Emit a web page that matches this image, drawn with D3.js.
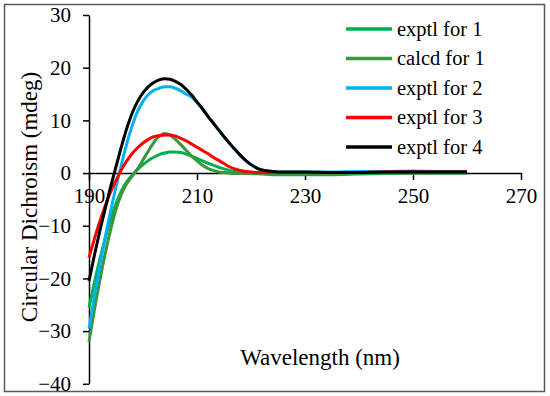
<!DOCTYPE html>
<html>
<head>
<meta charset="utf-8">
<script src="https://cdn.jsdelivr.net/npm/d3@7"></script>
<style>
  body { margin: 0; background: #fff; }
  svg { display: block; }
  svg text { font-family: "Liberation Serif", "Times New Roman", Tinos, "DejaVu Serif", serif; }
</style>
</head>
<body>
<script>
// wavelength grid (nm) shared by all series
const wavelengths = [190, 191, 192, 193, 194, 195, 196, 197, 198, 199,
    200, 201, 202, 203, 204, 205, 206, 207, 208, 209,
    210, 211, 212, 213, 214, 215, 216, 217, 218, 219,
    220, 221, 222, 224, 226, 228, 230, 235, 240, 245,
    250, 255, 260];

const exptl1 = [-25.5, -20.8, -16.4, -12.4, -8.8, -5.8, -3.4, -1.6, -0.4, 0.7,
    1.6, 2.4, 3.0, 3.5, 3.8, 4.0, 4.0, 3.9, 3.6, 3.2,
    2.8, 2.3, 1.9, 1.5, 1.1, 0.8, 0.5, 0.3, 0.1, 0.0,
    -0.1, -0.15, -0.2, -0.3, -0.3, -0.3, -0.3, -0.3, -0.2, -0.1,
    0.0, 0.0, 0.0];

const calcd1 = [-32.0, -26.0, -20.4, -15.3, -10.8, -6.9, -4.0, -2.0, -0.6, 0.8,
    2.5, 4.2, 5.8, 7.0, 7.5, 7.2, 6.4, 5.4, 4.3, 3.2,
    2.3, 1.5, 0.9, 0.5, 0.2, 0.1, 0.0, -0.1, -0.1, -0.1,
    -0.1, -0.1, -0.1, -0.1, -0.1, -0.1, -0.1, -0.1, 0.0, 0.0,
    0.0, 0.0, 0.0];

const exptl2 = [-29.5, -23.4, -17.6, -12.2, -7.2, -2.6, 1.6, 5.6, 9.0, 11.7,
    13.6, 14.9, 15.7, 16.1, 16.4, 16.4, 16.1, 15.6, 15.0, 14.4,
    13.4, 12.2, 10.8, 9.5, 8.2, 6.9, 5.7, 4.5, 3.4, 2.4,
    1.6, 1.0, 0.6, 0.3, 0.2, 0.2, 0.2, 0.2, 0.3, 0.3,
    0.4, 0.3, 0.3];

const exptl3 = [-16.0, -12.5, -9.2, -6.2, -3.6, -1.4, 0.6, 2.3, 3.7, 4.8,
    5.7, 6.4, 6.9, 7.1, 7.2, 7.2, 7.0, 6.6, 6.1, 5.5,
    4.9, 4.3, 3.7, 3.0, 2.4, 1.8, 1.2, 0.8, 0.5, 0.3,
    0.2, 0.1, 0.1, 0.1, 0.1, 0.1, 0.1, 0.1, 0.1, 0.2,
    0.2, 0.2, 0.2];

const exptl4 = [-20.5, -15.6, -11.0, -6.8, -2.6, 1.2, 5.0, 8.5, 11.4, 13.6,
    15.2, 16.4, 17.2, 17.7, 17.9, 17.8, 17.4, 16.8, 15.9, 14.8,
    13.5, 12.2, 10.8, 9.5, 8.2, 6.9, 5.7, 4.5, 3.4, 2.4,
    1.6, 1.0, 0.6, 0.3, 0.2, 0.2, 0.2, 0.1, 0.1, 0.2,
    0.2, 0.2, 0.2];

const seriesNames = ["exptl for 1", "calcd for 1", "exptl for 2", "exptl for 3", "exptl for 4"];
const seriesValues = [exptl1, calcd1, exptl2, exptl3, exptl4];
const seriesColors = ["#00b050", "#3a963a", "#00b0f0", "#ff0000", "#000000"];

const xTicks = [190, 210, 230, 250, 270];
const yTicks = [-40, -30, -20, -10, 0, 10, 20, 30];

const width = 550;
const height = 396;

const x = d3.scaleLinear()
    .domain([190, 270])
    .range([89, 521]);

const y = d3.scaleLinear()
    .domain([-40, 30])
    .range([383.8, 15]);

const svg = d3.select("body").append("svg")
    .attr("width", width)
    .attr("height", height)
    .attr("viewBox", [0, 0, width, height]);

// outer frame
svg.append("rect")
    .attr("x", 4.5)
    .attr("y", 4.5)
    .attr("width", 540)
    .attr("height", 387)
    .attr("fill", "#fff")
    .attr("stroke", "#595959")
    .attr("stroke-width", 1.5);

// x-axis sits on the zero line
svg.append("g")
    .attr("transform", `translate(0,${y(0)})`)
    .call(d3.axisBottom(x).tickValues(xTicks).tickSize(7).tickSizeOuter(0).tickPadding(8))
    .attr("font-family", null)
    .attr("font-size", 21)
    .call(g => g.select(".domain").attr("stroke-width", 1.5))
    .call(g => g.selectAll(".tick line").attr("stroke-width", 1.5));

// y-axis
svg.append("g")
    .attr("transform", `translate(${x(190)},0)`)
    .call(d3.axisLeft(y).tickValues(yTicks).tickSize(6).tickSizeOuter(0).tickPadding(12))
    .attr("font-family", null)
    .attr("font-size", 21)
    .call(g => g.select(".domain").attr("stroke-width", 1.5))
    .call(g => g.selectAll(".tick line").attr("stroke-width", 1.5));

// axis titles
svg.append("text")
    .attr("x", 320)
    .attr("y", 365)
    .attr("text-anchor", "middle")
    .attr("font-size", 23)
    .text("Wavelength (nm)");

svg.append("text")
    .attr("transform", "translate(37,197) rotate(-90)")
    .attr("text-anchor", "middle")
    .attr("font-size", 23)
    .text("Circular Dichroism (mdeg)");

// spectra
const line = d3.line()
    .x((d, i) => x(wavelengths[i]))
    .y(d => y(d))
    .curve(d3.curveMonotoneX);

svg.append("g")
    .selectAll("path")
    .data(seriesValues)
    .join("path")
    .attr("fill", "none")
    .attr("stroke", (d, i) => seriesColors[i])
    .attr("stroke-width", 3)
    .attr("stroke-linejoin", "round")
    .attr("d", line);

// legend
const legend = svg.append("g")
    .selectAll("g")
    .data(seriesNames)
    .join("g")
    .attr("transform", (d, i) => `translate(346,${29 + i * 29.5})`);

legend.append("line")
    .attr("x1", 0)
    .attr("x2", 46)
    .attr("stroke", (d, i) => seriesColors[i])
    .attr("stroke-width", 3.5);

legend.append("text")
    .attr("x", 51)
    .attr("dy", "0.32em")
    .attr("font-size", 20.5)
    .text(d => d);
</script>
</body>
</html>
